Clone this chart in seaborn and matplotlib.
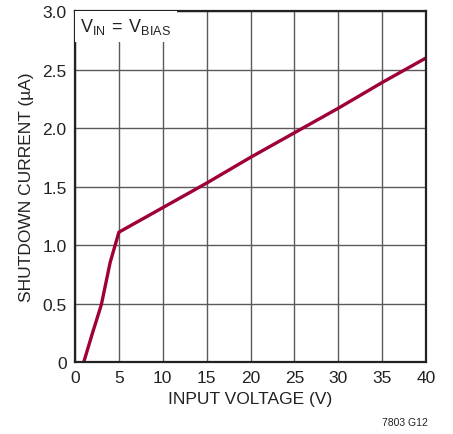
import numpy as np
import pandas as pd
import matplotlib
matplotlib.use("Agg")
import matplotlib.pyplot as plt
import seaborn as sns
from matplotlib import font_manager

# data
input_voltage = [1, 2, 3, 4, 5, 10, 15, 20, 25, 30, 35, 40]
shutdown_current = [0.0, 0.25, 0.49, 0.85, 1.11, 1.32, 1.53, 1.75, 1.96, 2.17, 2.39, 2.60]
x_ticks = [0, 5, 10, 15, 20, 25, 30, 35, 40]
y_ticks = [0, 0.5, 1.0, 1.5, 2.0, 2.5, 3.0]
y_tick_labels = ["0", "0.5", "1.0", "1.5", "2.0", "2.5", "3.0"]

df = pd.DataFrame({"vin": input_voltage, "iq": shutdown_current})

sns.set_style("white")
names = {f.name for f in font_manager.fontManager.ttflist}
fam = "Liberation Sans Narrow" if "Liberation Sans Narrow" in names else "Liberation Sans"
plt.rcParams["font.family"] = [fam, "DejaVu Sans"]

fig = plt.figure(figsize=(4.53, 4.35), dpi=100)
ax = fig.add_axes([0.1656, 0.1655, 0.7748, 0.8065])

sns.lineplot(data=df, x="vin", y="iq", ax=ax, color="#a0003a", linewidth=2.4)

ax.set_xlim(0, 40)
ax.set_ylim(0, 3.0)
ax.set_xticks(x_ticks)
ax.set_yticks(y_ticks)
ax.set_yticklabels(y_tick_labels)
ax.grid(True, color="#5a5a5a", linewidth=1.0)
ax.set_axisbelow(True)
ax.tick_params(length=0, labelsize=12.5, colors="#222222", pad=6)
for s in ax.spines.values():
    s.set_color("#222222")
    s.set_linewidth(1.6)

ax.set_xlabel("INPUT VOLTAGE (V)", fontsize=12.5, color="#222222", labelpad=4)
ax.set_ylabel("SHUTDOWN CURRENT (\u00b5A)", fontsize=12.5, color="#222222", labelpad=6)

ax.text(0.015, 0.985, r"$\mathregular{V_{IN}\,=\,V_{BIAS}}$", transform=ax.transAxes,
        ha="left", va="top", fontsize=13, color="#222222",
        bbox=dict(facecolor="white", edgecolor="none", pad=4), zorder=3)

fig.text(0.945, 0.015, "7803 G12", ha="right", va="bottom", fontsize=7.5, color="#222222")

fig.savefig("out.png", dpi=100)
